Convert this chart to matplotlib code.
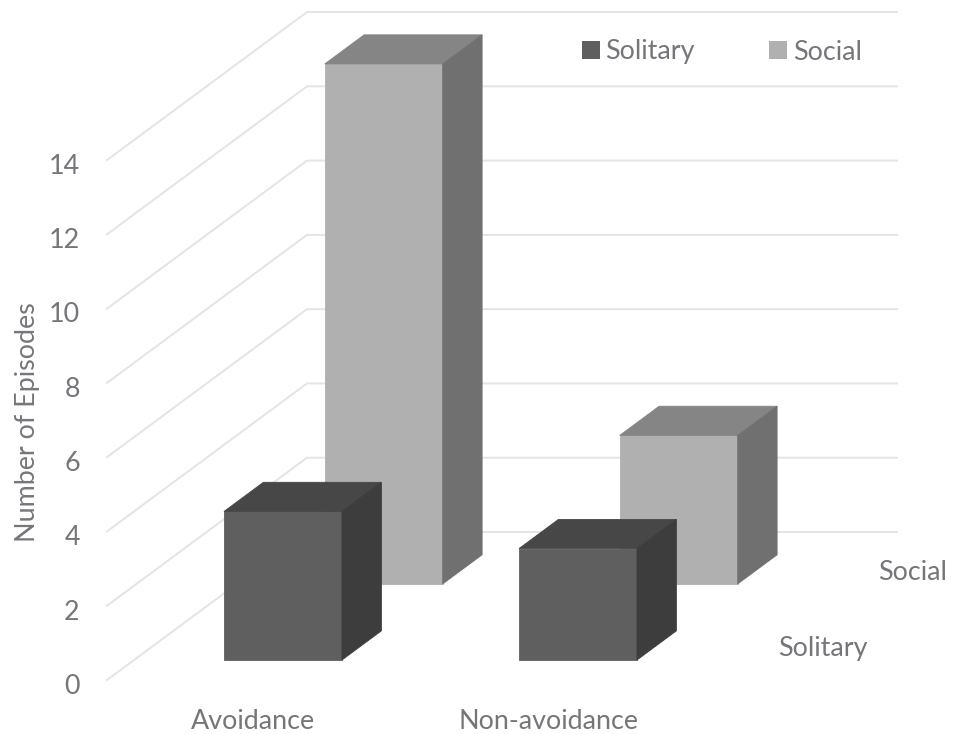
import matplotlib
matplotlib.use('Agg')
import matplotlib.pyplot as plt
from matplotlib.patches import Polygon, Patch

plt.rcParams['font.family'] = ['Lato', 'DejaVu Sans']

categories = ['Avoidance', 'Non-avoidance']
series_names = ['Solitary', 'Social']
solitary = [4, 3]
social = [14, 4]
y_ticks = [0, 2, 4, 6, 8, 10, 12, 14]

# one value unit is 37.14 px, one category is 295 px
PX_X = 295.0
PX_Y = 37.14
# shift of the back wall in data units, this is the fake 3d
BACK_X = 200 / PX_X
BACK_Y = 148 / PX_Y

TEXT = '#76767a'
GRID = '#e4e4e4'
FS = 19.4


def project(x, v, d):
    return x + BACK_X * d, v + BACK_Y * d


def draw_bar(ax, x0, width, value, d0, depth, colors):
    front, top, side = colors
    d1 = d0 + depth
    x1 = x0 + width
    faces = [
        ([(x0, 0, d0), (x1, 0, d0), (x1, value, d0), (x0, value, d0)], front),
        ([(x0, value, d0), (x1, value, d0), (x1, value, d1), (x0, value, d1)], top),
        ([(x1, 0, d0), (x1, 0, d1), (x1, value, d1), (x1, value, d0)], side),
    ]
    for pts, color in faces:
        ax.add_patch(Polygon([project(*p) for p in pts], closed=True, facecolor=color,
                             edgecolor=color, linewidth=0.6, zorder=3))


fig = plt.figure(figsize=(9.56, 7.34), dpi=100)
ax = fig.add_axes([0, 0, 1, 1])
ax.set_xlim(-107 / PX_X, (956 - 107) / PX_X)
ax.set_ylim((680 - 734) / PX_Y, 680 / PX_Y)
ax.axis('off')

# gridlines: side wall then back wall
for v in y_ticks:
    a = project(0, v, 0)
    b = project(0, v, 1)
    c = project(2, v, 1)
    ax.plot([a[0], b[0], c[0]], [a[1], b[1], c[1]], color=GRID, lw=1.4, zorder=1)
    ax.text(-0.092, v - 0.17, str(v), color=TEXT, fontsize=FS, ha='right', va='center')

ax.text(-0.27, 6.93, 'Number of Episodes', color=TEXT, fontsize=FS,
        rotation=90, ha='center', va='center')

for i, name in enumerate(categories):
    ax.text(i + 0.495, -1.13, name, color=TEXT, fontsize=FS, ha='center', va='center')

# depth labels, right of the floor
ax.text(2.732, 2.9, series_names[1], color=TEXT, fontsize=FS, ha='center', va='center')
ax.text(2.427, 0.84, series_names[0], color=TEXT, fontsize=FS, ha='center', va='center')

solitary_colors = ('#5f5f5f', '#474747', '#3d3d3d')
social_colors = ('#b0b0b0', '#858585', '#707070')
bar_width = 0.4
bar_depth = 0.197

# back row first so the front row covers it
for i in range(len(categories)):
    draw_bar(ax, i + 0.298, bar_width, social[i], 0.649, bar_depth, social_colors)
for i in range(len(categories)):
    draw_bar(ax, i + 0.305, bar_width, solitary[i], 0.135, bar_depth, solitary_colors)

handles = [Patch(facecolor=solitary_colors[0], label=series_names[0]),
           Patch(facecolor=social_colors[0], label=series_names[1])]
ax.legend(handles=handles, ncol=2, frameon=False, loc='center',
          bbox_to_anchor=(721.5 / 956, 1 - 52 / 734), fontsize=FS, labelcolor=TEXT,
          handlelength=0.68, handleheight=0.68, handletextpad=0.2, columnspacing=2.75)

fig.savefig('out.png', dpi=100)
